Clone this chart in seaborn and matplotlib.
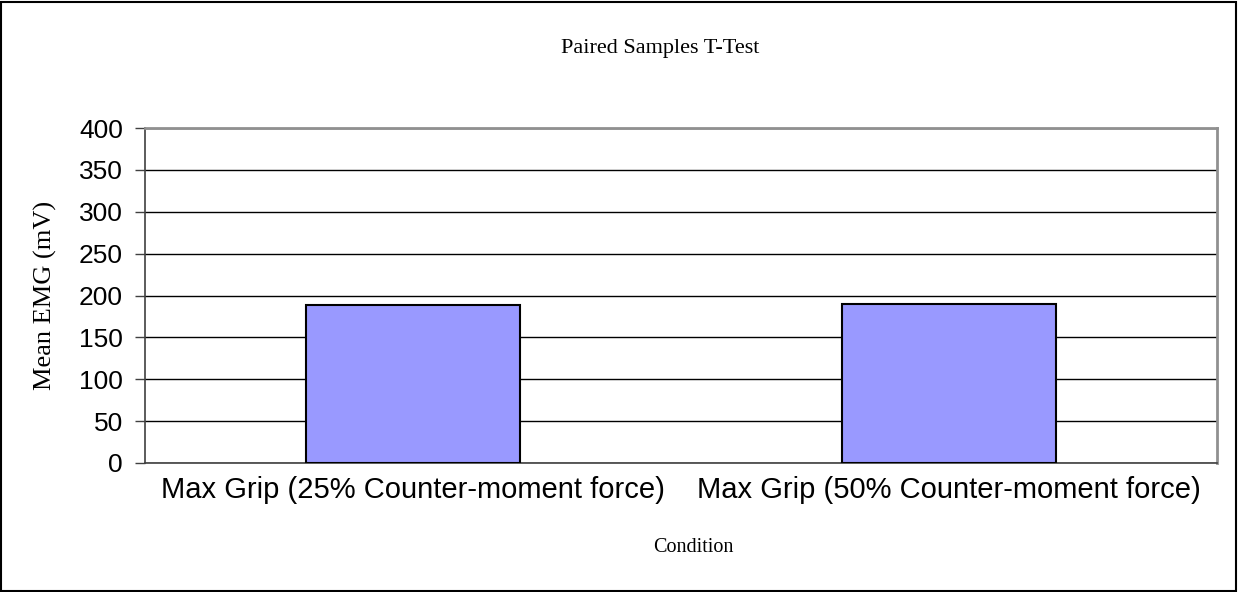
import matplotlib
matplotlib.use("Agg")
import matplotlib.pyplot as plt
import seaborn as sns
import pandas as pd
from matplotlib.patches import Rectangle

conditions = ["Max Grip (25% Counter-moment force)", "Max Grip (50% Counter-moment force)"]
mean_emg = [189, 190]
y_ticks = [0, 50, 100, 150, 200, 250, 300, 350, 400]

df = pd.DataFrame({"Condition": conditions, "Mean EMG": mean_emg})

sns.set_style("white")
plt.rcParams['font.family'] = ['Liberation Sans', 'DejaVu Sans']
plt.rcParams['text.color'] = 'black'
plt.rcParams['xtick.color'] = 'black'
plt.rcParams['ytick.color'] = 'black'
plt.rcParams['axes.labelcolor'] = 'black'

fig = plt.figure(figsize=(12.38, 5.92), dpi=100)
ax = fig.add_axes([145/1238, 1-463/592, (1217-145)/1238, (463-128)/592])

sns.barplot(data=df, x="Condition", y="Mean EMG", ax=ax, color="#9999FF",
            saturation=1, width=0.4, edgecolor="black", linewidth=1.5, zorder=3)

ax.set_ylim(0, 400)
ax.set_xlim(-0.5, 1.5)
ax.set_yticks(y_ticks)
ax.set_yticklabels([str(v) for v in y_ticks], fontsize=19)
ax.yaxis.grid(True, color="black", linewidth=1.0, zorder=0)
ax.set_axisbelow(True)

ax.set_xticks([0, 1])
ax.set_xticklabels(conditions, fontsize=21)
ax.set_xticks([-0.5, 0.5, 1.5], minor=True)
ax.tick_params(axis="x", which="major", length=0, pad=9)
ax.tick_params(axis="x", which="minor", length=7, width=1, color="#404040", direction="out")
ax.tick_params(axis="y", which="major", length=7, width=1, color="#404040", direction="out", left=True, pad=9)

for side in ["top", "right"]:
    ax.spines[side].set_color("#909090")
    ax.spines[side].set_linewidth(2)
for side in ["left", "bottom"]:
    ax.spines[side].set_color("#404040")
    ax.spines[side].set_linewidth(1.2)

ax.set_xlabel("Condition", fontsize=14.5, family=["Liberation Serif"])
ax.xaxis.set_label_coords((693-145)/1072, (463-547)/335)
ax.xaxis.label.set_va("center")
ax.set_ylabel("Mean EMG (mV)", fontsize=19, family=["Liberation Serif"])
ax.yaxis.set_label_coords((45-145)/1072, 0.5)
ax.yaxis.label.set_va("center")

fig.text(660/1238, 1-48/592, "Paired Samples T-Test", ha="center", va="center",
         fontsize=16, family=["Liberation Serif"])

fig.patches.append(Rectangle((1/1238, 1/592), 1-3/1238, 1-3/592, transform=fig.transFigure,
                             fill=False, edgecolor="black", linewidth=1.5))

fig.savefig("out.png", dpi=100)
